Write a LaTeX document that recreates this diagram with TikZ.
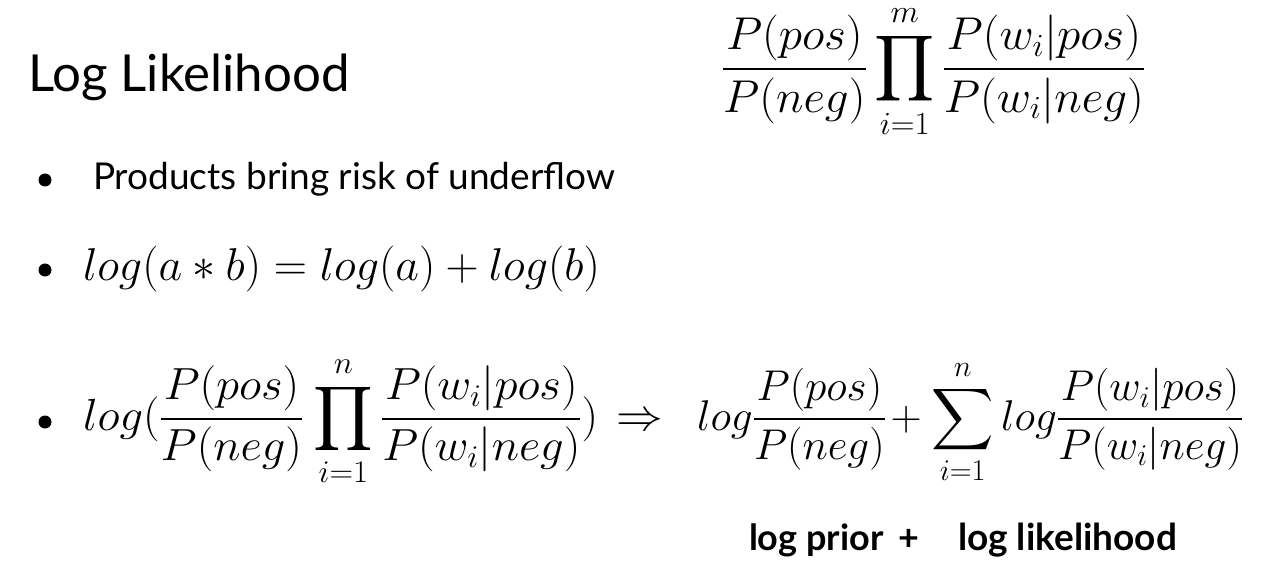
\documentclass[tikz,border=0pt]{standalone}
\usepackage{fix-cm}
\usepackage{amsmath}
\usepackage{graphicx}
\usepackage{fontspec}
\DeclareFontFamily{OMX}{cmex}{}
\DeclareFontShape{OMX}{cmex}{m}{n}{<->cmex10}{}
\newfontfamily\lato{Lato}
\newcommand{\mfs}[1]{\fontsize{#1}{#1}\selectfont}
\begin{document}
\begin{tikzpicture}[x=1pt,y=-1pt,
  every node/.style={inner sep=0pt,outer sep=0pt},
  txt/.style={anchor=base west,text=black},
  bulletdot/.style={circle,fill=black,minimum size=13pt}]
\fill[white] (0,0) rectangle (1264,585);
\useasboundingbox (0,0) rectangle (1264,585);
\node[txt,font=\lato\fontsize{51}{60}\selectfont] (title) at (28,92) {Log Likelihood};
\node[txt] (top) at (722,80.5) {\resizebox{423pt}{\height}{\mfs{46}$\displaystyle \frac{P(pos)}{P(neg)}\prod_{i=1}^{m}\frac{P(w_i|pos)}{P(w_i|neg)}$}};
\node[bulletdot] (b1) at (45,180) {};
\node[txt,font=\lato\fontsize{37}{44}\selectfont] (t1) at (93,190) {Products bring risk of underflow};
\node[bulletdot] (b2) at (45,270) {};
\node[txt] (t2) at (83,281) {\mfs{46}$log(a*b)=log(a)+log(b)$};
\node[bulletdot] (b3) at (45,422) {};
\node[txt] (t3) at (83,430) {\resizebox{580pt}{\height}{\mfs{45}$\displaystyle log({\frac{P(pos)}{P(neg)}}\mkern1mu\prod_{i=1}^{n}\frac{P(w_i|pos)}{P(w_i|neg)})\mkern2mu\Rightarrow$}};
\node[txt] (t4) at (697,430) {\resizebox{546pt}{\height}{\mfs{43}$\displaystyle log{\frac{P(pos)}{P(neg)}}\mkern2mu{+}\mkern1mu\sum_{i=1}^{n}log{\frac{P(w_i|pos)}{P(w_i|neg)}}$}};
\node[txt,font=\lato\bfseries\fontsize{36}{44}\selectfont] (lp) at (749,550) {log prior\,\ +};
\node[txt,font=\lato\bfseries\fontsize{37}{44}\selectfont] (ll) at (958,550) {log likelihood};
\end{tikzpicture}
\end{document}
